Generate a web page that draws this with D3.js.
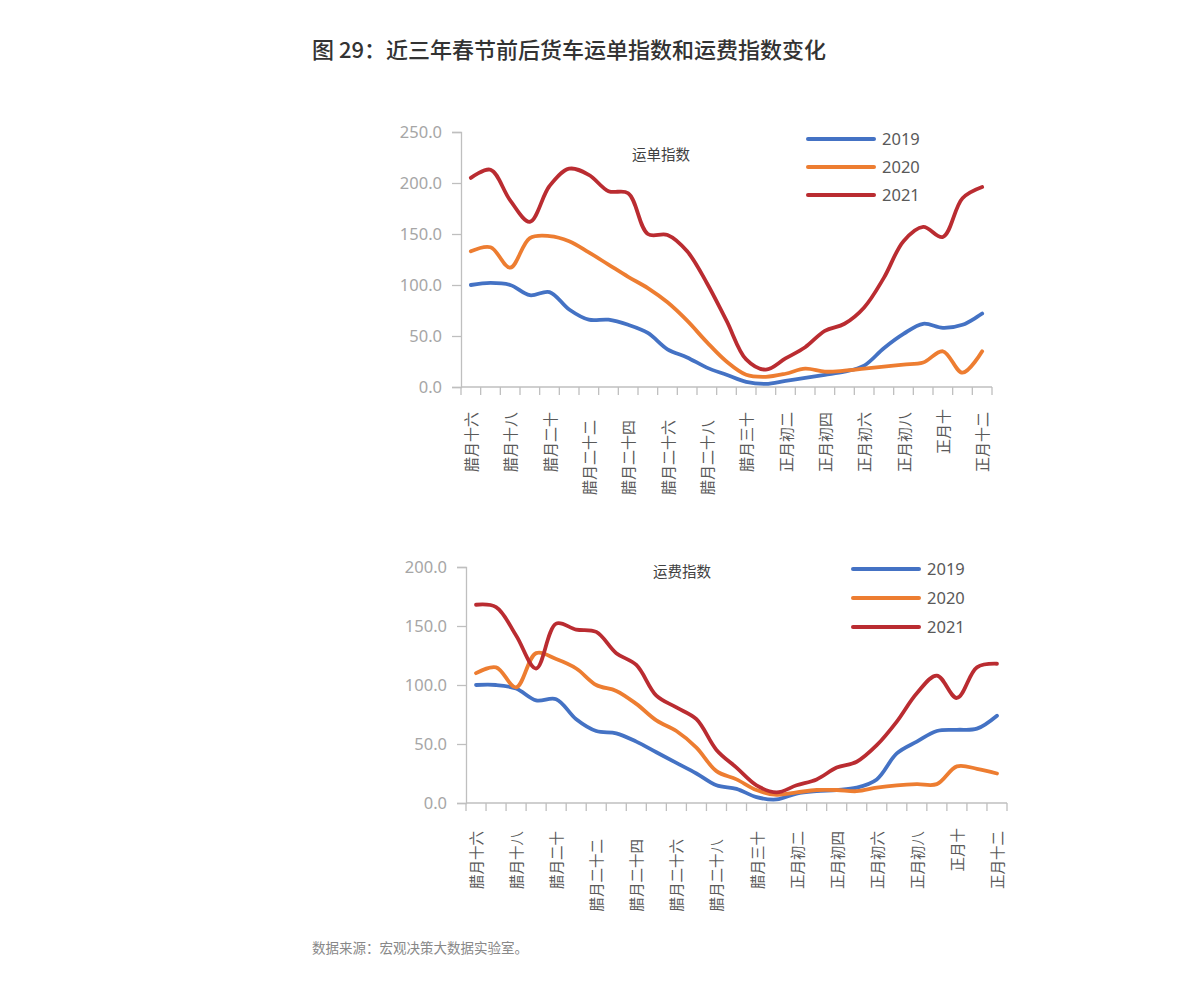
<!DOCTYPE html>
<html><head><meta charset="utf-8">
<script src="https://cdn.jsdelivr.net/npm/d3@7"></script>
<style>
body{margin:0;background:#fff;}
svg text{font-family:"Noto Sans CJK SC","Noto Sans",sans-serif;}
</style></head>
<body><svg id="c" width="1191" height="989"></svg>
<script>
const categories = ["腊月十六","腊月十七","腊月十八","腊月十九","腊月二十","腊月二十一","腊月二十二","腊月二十三","腊月二十四","腊月二十五","腊月二十六","腊月二十七","腊月二十八","腊月二十九","腊月三十","正月初一","正月初二","正月初三","正月初四","正月初五","正月初六","正月初七","正月初八","正月初九","正月十","正月十一","正月十二"];
const seriesNames = ["2019","2020","2021"];
const order2019 = [100,102,100,90,93,76,66,66,61,53,37,29,19,12,5,3,6,9,12,15,21,38,52,62,58,61,72];
const order2020 = [133,137,117,146,148,143,132,120,108,97,83,65,44,25,12,10,13,18,15,16,18,20,22,24,35,14,35];
const order2021 = [205,213,183,162,197,214,208,192,190,150,149,133,102,65,27,17,28,39,55,62,78,107,143,157,147,185,196];
const freight2019 = [100,100,97,87,88,71,61,59,52,43,34,25,15,12,5,3,8,10,11,13,20,42,52,61,62,63,74];
const freight2020 = [110,115,98,127,122,114,100,95,84,70,61,47,27,20,11,7,9,11,11,10,13,15,16,16,31,29,25];
const freight2021 = [168,166,142,114,152,147,145,127,117,91,81,71,45,30,15,9,15,20,30,35,49,69,93,108,89,115,118];
const orderTicks = [0,50,100,150,200,250];
const freightTicks = [0,50,100,150,200];
const titleText = "图 29：近三年春节前后货车运单指数和运费指数变化";
const sourceText = "数据来源：宏观决策大数据实验室。";
const colors = ["#4472C4","#ED7D31","#BA2C31"];

const svg = d3.select("#c");
svg.append("text").attr("x",312).attr("y",58).attr("font-size",22).attr("font-weight",500)
  .attr("fill","#333").text(titleText);
svg.append("text").attr("x",312).attr("y",953).attr("font-size",13.5)
  .attr("fill","#888").text(sourceText);

function drawChart(cfg){
  const g = svg.append("g");
  const x = d3.scaleBand().domain(categories).range([cfg.x0,cfg.x1]).padding(0);
  const y = d3.scaleLinear().domain([0,cfg.ymax]).range([cfg.yb,cfg.yt]);
  const axisCol = "#bfbfbf";
  const ya = g.append("g").attr("transform",`translate(${cfg.x0},0)`)
    .call(d3.axisLeft(y).tickValues(cfg.ticks).tickFormat(d3.format(".1f")).tickSizeOuter(0).tickSize(9).tickPadding(10));
  ya.select(".domain").attr("stroke",axisCol).attr("stroke-width",1.3);
  ya.selectAll(".tick line").attr("stroke",axisCol).attr("stroke-width",1.3);
  ya.selectAll(".tick text").attr("fill","#a6a6a6").attr("font-size",16.5)
    .style("font-family","'Noto Sans','Noto Sans CJK SC',sans-serif");
  const xa = g.append("g");
  xa.append("line").attr("x1",cfg.x0).attr("x2",cfg.x1).attr("y1",cfg.yb).attr("y2",cfg.yb)
    .attr("stroke",axisCol).attr("stroke-width",1.3);
  const bounds = categories.map(c=>x(c)).concat([cfg.x1]);
  xa.selectAll("line.tk").data(bounds).join("line").attr("class","tk")
    .attr("x1",d=>d).attr("x2",d=>d).attr("y1",cfg.yb).attr("y2",cfg.yb+8)
    .attr("stroke",axisCol).attr("stroke-width",1.3);
  const labeled = categories.filter((c,i)=>i%2===0);
  xa.selectAll("text.lb").data(labeled).join("text").attr("class","lb")
    .attr("transform",d=>{
      const off = d.length===5 ? 8 : (d.length===3 ? -3 : 0);
      return `translate(${x(d)+x.bandwidth()/2+6},${cfg.labelTop+off}) rotate(-90)`;
    })
    .attr("text-anchor","end").attr("font-size",cfg.labelSize).attr("fill","#595959")
    .text(d=>d);
  const line = d3.line().x((d,i)=>x(categories[i])+x.bandwidth()/2).y(d=>y(d))
    .curve(d3.curveCatmullRom.alpha(0.5));
  cfg.series.forEach((s,k)=>{
    g.append("path").datum(s).attr("d",line).attr("fill","none")
      .attr("stroke",colors[k]).attr("stroke-width",3.8)
      .attr("stroke-linecap","round").attr("stroke-linejoin","round");
  });
  g.append("text").attr("x",cfg.lblX).attr("y",cfg.lblY).attr("font-size",14.5).attr("fill","#404040").text(cfg.label);
  seriesNames.forEach((n,k)=>{
    const yy = cfg.legY + k*cfg.legGap;
    g.append("line").attr("x1",cfg.legX).attr("x2",cfg.legX+66).attr("y1",yy).attr("y2",yy)
      .attr("stroke",colors[k]).attr("stroke-width",4).attr("stroke-linecap","round");
    g.append("text").attr("x",cfg.legX+74).attr("y",yy+6).attr("font-size",16.5).attr("fill","#595959")
      .style("font-family","'Noto Sans','Noto Sans CJK SC',sans-serif").text(n);
  });
}

drawChart({x0:461,x1:992,yt:132,yb:387,ymax:250,ticks:orderTicks,
  series:[order2019,order2020,order2021],label:"运单指数",lblX:632,lblY:160,
  legX:808,legY:139,legGap:28,labelTop:412,labelSize:15});
drawChart({x0:466,x1:1007,yt:567,yb:803,ymax:200,ticks:freightTicks,
  series:[freight2019,freight2020,freight2021],label:"运费指数",lblX:653,lblY:577,
  legX:853,legY:569,legGap:29,labelTop:831,labelSize:14.5});
</script></body></html>
